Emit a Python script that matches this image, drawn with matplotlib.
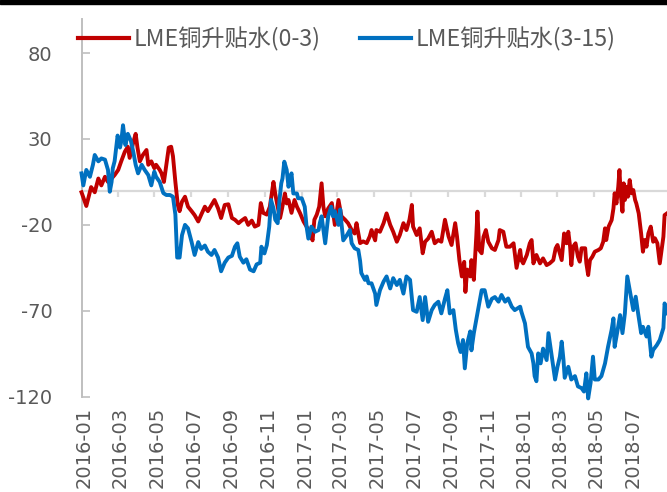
import matplotlib
matplotlib.use("Agg")
import matplotlib.pyplot as plt
import matplotlib.transforms as mtransforms
import pandas as pd

# ---------------- data (days since 2016-01-01, values) ----------------
start_date = "2016-01-01"
end_offset_days = 973

red_label = "LME铜升贴水(0-3)"
blue_label = "LME铜升贴水(3-15)"

red_days = [0, 8, 16, 22, 28, 33, 39, 44, 50, 55, 61, 66, 72, 77, 80, 86, 90, 93, 97, 102,
            108, 111, 116, 121, 124, 130, 133, 137, 141, 145, 149, 152, 156, 160, 163, 167, 172, 177, 183, 188,
            194, 199, 205, 210, 216, 221, 227, 232, 238,
            244, 250, 255, 261, 266, 272, 277, 283, 288, 294, 298, 302, 308, 313, 319, 322, 326, 330, 333, 338,
            341, 344, 349, 354, 358, 363, 369, 374, 380, 384, 387, 391, 395, 399, 402, 405, 410, 416, 421, 427,
            432, 438, 443, 449, 454, 457, 463, 468, 474, 479, 482, 488,
            490, 496, 502, 507, 513, 518, 524, 529, 535, 540, 545, 549, 551, 557, 562, 567, 571, 576, 582, 587,
            593, 598, 604, 610, 615, 621, 624, 628, 632, 636, 638, 641, 646, 648, 652, 656, 658, 661, 665, 668,
            672, 676, 682, 687, 693, 695, 701, 706, 712, 718, 723, 729,
            731, 734, 740, 745, 748, 751, 756, 762, 767, 773, 778, 784, 788, 791, 795, 798, 802, 806, 809, 812,
            814, 817, 821, 825, 828, 831, 837, 839, 842, 845, 849, 853, 859, 863, 867, 870, 872, 876, 881, 884,
            886, 889, 892, 894, 896, 899, 901, 903, 906, 908, 911, 914, 917, 920, 922, 926, 930, 933, 936, 939,
            942, 946, 950, 953, 957, 961, 964, 967, 969, 973]
red_vals = [-1, -9, 2, -1, 7, 3, 8, 5, 7, 9, 12, 17, 22.6, 25.5, 19, 28, 33, 25, 17, 20.7,
            23.6, 15, 17, 13, 15, 12, 10, 5, 15, 25, 25.5, 20, 5, -8.4, -12, -6.5, -3.6, -9.4, -12, -14.3,
            -18, -14, -9.4, -12, -8.4, -5.5, -10.4, -16, -8.4,
            -8, -16, -17, -19, -17.5, -16, -20, -17.5, -21, -20, -7.3, -13, -14, -9.4, 5, -2, -9.4, -16, -11, -1.7,
            -7.5, -5.5, -13, -5.5, -9.4, -13, -18, -21, -25, -29, -17, -14, -9.4, 4.2, -9.4, -15, -10.4, -7.3, -20, -5.5,
            -15, -17, -19, -23, -25, -19, -30.6, -29.6, -30.6, -26.7, -23, -29,
            -23, -24, -19, -13.3, -20, -24, -29.8, -25.9, -19, -23, -17, -8.4, -21, -25.9, -22, -36.5, -29.8, -28, -24, -30.7,
            -28.8, -29.8, -17, -26.7, -31.7, -19, -26.7, -40.5, -50, -41.5, -59, -46, -50, -40.5, -52, -27, -12.3, -34.6, -36.5, -27,
            -23, -29.8, -33.6, -34.6, -28.8, -23, -24, -32.7, -32.7, -30.7, -45, -34.6,
            -40.5, -42.4, -37.5, -30.7, -28.8, -42.4, -37.5, -42.4, -39.5, -43.4, -42.4, -40.5, -33.6, -31.7, -36.6, -40.5, -25, -30.7, -24, -32.7,
            -43.4, -32.7, -30.7, -38.5, -41.4, -33.6, -33.6, -42.4, -49.2, -40.5, -38.5, -35.6, -34.6, -33.6, -29.8, -22, -28.8, -21, -17.2, -10.4,
            -1.6, -7.5, 2.2, 11.9, -1.6, -12.3, 4.2, -5.5, 2.2, -3.6, 6.1, -1.6, 0.3, -5.5, -7.5, -13.3, -25, -35.6, -28.8, -32.7,
            -25, -21, -29.8, -27.8, -30.7, -42.4, -34.6, -26.9, -14.3, -13.3]

blue_days = [0, 3, 8, 14, 19, 22, 28, 33, 39, 44, 47, 50, 52, 55, 60, 64, 66, 69, 73, 77,
             82, 86, 90, 94, 100, 105, 111, 116, 121, 124, 130, 136, 141, 147, 152, 156, 159, 163, 167, 172,
             177, 183, 188, 194, 199, 205, 210, 216, 221, 227, 232, 238,
             244, 250, 255, 259, 263, 269, 274, 280, 286, 291, 297, 299, 304, 308, 312, 315, 319, 322, 326, 329,
             332, 334, 337, 341, 344, 346, 349, 352, 358, 360, 366, 371, 374, 377, 382, 388, 394, 396, 399, 405,
             410, 415, 418, 421, 427, 430, 432, 435, 441, 446, 449, 454, 460, 463, 465, 471, 474, 477, 482, 488,
             490, 496, 502, 507, 513, 518, 524, 529, 535, 540, 546, 551, 557, 562, 567, 571, 576, 582, 587, 593,
             598, 604, 608, 612, 618, 622, 626, 630, 634, 637, 641, 646, 648, 652, 656, 659, 665, 670, 676, 682,
             687, 693, 698, 704, 709, 715, 720, 729,
             731, 737, 742, 748, 751, 753, 756, 759, 763, 767, 773, 776, 780, 784, 787, 791, 795, 798, 801, 803,
             809, 814, 820, 825, 831, 835, 839, 842, 846, 850, 853, 859, 864, 870, 875, 881, 884, 886, 891, 895,
             899, 903, 907, 911, 914, 917, 921, 925, 930, 933, 939, 942, 947, 950, 956, 961, 967, 969, 973]
blue_vals = [10, 3, 12, 8, 15, 20.7, 17, 18.7, 18, 12, -0.7, 5, 13, 17, 32, 25, 28.4, 38, 26.5, 33,
             29, 22.6, 15, 10, 15, 12, 9, 3, 11, 8, 5, -1.5, -2.6, -2.6, -3.6, -14, -39, -39, -26, -20,
             -22, -30, -37.5, -30, -34, -32, -35.6, -37.5, -34.6, -39, -47, -42,
             -39, -38, -32.7, -30.7, -38.5, -42, -40, -46, -47, -43, -42, -32.7, -36.6, -31.7, -21, -5.5, -10.4, -17, -19, -5.5,
             4.2, 7, 16.8, 12, 2.2, 6, 10, -1.7, -1.7, -4.5, -4.5, -9.4, -21, -28, -21, -24, -23, -19, -15, -30.7,
             -15, -9.4, -15, -12, -20, -11, -19, -29, -26, -23, -30.7, -33.6, -34.6, -41, -48, -52, -50, -54, -54, -60,
             -66.6, -58, -53, -50, -57, -51, -55, -52, -60, -50, -52, -69.6, -70.6, -62, -75.4, -62, -76.4, -69.6, -66.6, -64.7,
             -71.5, -63, -58, -71.5, -69.6, -81, -89, -94, -87, -103.5, -89, -82, -93, -83, -75.4, -69.6, -58, -58, -67.6, -63,
             -62, -64.7, -60.8, -64.7, -62.8, -67.6, -69.6, -67.6,
             -70.5, -77.3, -91, -94.8, -100.6, -108, -111, -94.8, -100.6, -92, -98.7, -83, -92.8, -102.6, -110, -102.6, -96.7, -88, -98.7, -109,
             -102.6, -110, -108, -114, -115, -117, -106.4, -121, -112, -96.7, -110, -110, -108, -100.6, -91, -81, -74.4, -91, -81, -72.5,
             -83, -71.5, -50, -57.9, -63.7, -69.6, -61.8, -71.5, -83, -79.3, -85, -79.3, -96.7, -92.8, -90, -87, -80, -65.7, -71.5]

y_ticks = [-120, -70, -20, 30, 80]
y_limits = (-120, 100)
x_tick_labels = ["2016-01", "2016-03", "2016-05", "2016-07", "2016-09", "2016-11",
                 "2017-01", "2017-03", "2017-05", "2017-07", "2017-09", "2017-11",
                 "2018-01", "2018-03", "2018-05", "2018-07"]

# ---------------- build ----------------
t0 = pd.Timestamp(start_date)
red_dates = t0 + pd.to_timedelta(red_days, unit="D")
blue_dates = t0 + pd.to_timedelta(blue_days, unit="D")
tick_dates = pd.to_datetime([s + "-01" for s in x_tick_labels])

W, H = 667, 492
fig = plt.figure(figsize=(W / 100, H / 100), dpi=100)
ax = fig.add_axes([81.5 / W, (H - 396.7) / H, (W - 81.5) / W, 220 * 1.718 / H])

RED = "#C00000"
BLUE = "#0070C0"
GRAY_TXT = "#595959"

ax.plot(red_dates, red_vals, color=RED, lw=2.8, label=red_label, clip_on=False,
        solid_joinstyle="round", zorder=3)
ax.plot(blue_dates, blue_vals, color=BLUE, lw=2.8, label=blue_label, clip_on=False,
        solid_joinstyle="round", zorder=4)

ax.set_xlim(t0, t0 + pd.Timedelta(days=end_offset_days))
ax.set_ylim(*y_limits)

# zero line with tick marks
ax.axhline(0, color="#d9d9d9", lw=1.6, zorder=1)
ax.vlines(tick_dates, -3.6, 0, color="#d9d9d9", lw=1.6, zorder=1)

for s in ["top", "right", "bottom"]:
    ax.spines[s].set_visible(False)
ax.spines["left"].set_color("#bfbfbf")
ax.spines["left"].set_linewidth(1.4)

ax.set_yticks(y_ticks)
ax.set_yticklabels([str(v) for v in y_ticks])
ax.tick_params(axis="y", direction="in", length=6, width=1.2, color="#bfbfbf",
               labelsize=14, labelcolor=GRAY_TXT, pad=21)

ax.set_xticks(tick_dates)
ax.set_xticklabels(x_tick_labels, rotation=90, fontsize=14, color=GRAY_TXT)
ax.tick_params(axis="x", length=0, pad=7)
shift = mtransforms.ScaledTranslation(3 / 100, 0, fig.dpi_scale_trans)
for lab in ax.get_xticklabels():
    lab.set_transform(lab.get_transform() + shift)

leg = ax.legend(loc="center left", bbox_to_anchor=(78 / W, 1 - 39 / H),
                bbox_transform=fig.transFigure, ncol=2, frameon=False,
                prop={"family": ["Noto Sans CJK SC", "DejaVu Sans"], "size": 16.7},
                handlelength=2.2, handletextpad=0.2, columnspacing=1.7,
                borderpad=0, borderaxespad=0)
for t in leg.get_texts():
    t.set_color(GRAY_TXT)
for h in leg.get_lines():
    h.set_linewidth(3)

# black strip at the top of the image
fig.patches.append(plt.Rectangle((0, 1 - 4 / H), 1, 4 / H, transform=fig.transFigure,
                                 color="black", zorder=10))

fig.savefig("out.png", dpi=100)
